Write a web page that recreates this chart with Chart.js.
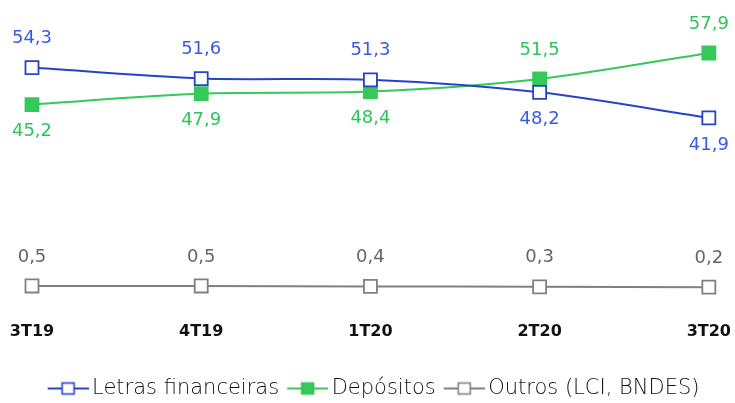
<!DOCTYPE html>
<html>
<head>
<meta charset="utf-8">
<script src="https://cdn.jsdelivr.net/npm/chart.js@4.4.1/dist/chart.umd.min.js"></script>
<style>
  html, body { margin: 0; padding: 0; background: #fff; }
  #wrap { width: 735px; height: 403px; }
</style>
</head>
<body>
<div id="wrap"><canvas id="chart"></canvas></div>
<script>
// Dados
const periodos = ['3T19', '4T19', '1T20', '2T20', '3T20'];
const letrasFinanceiras = [54.3, 51.6, 51.3, 48.2, 41.9];
const depositos = [45.2, 47.9, 48.4, 51.5, 57.9];
const outros = [0.5, 0.5, 0.4, 0.3, 0.2];

const FONT = "'DejaVu Sans', 'Noto Sans', sans-serif";

// posição do rótulo de cada ponto (acima / abaixo)
const labelSide = [
  ['up', 'up', 'up', 'down', 'down'],
  ['down', 'down', 'down', 'up', 'up'],
  ['up', 'up', 'up', 'up', 'up'],
];
const labelColors = ['#3a5ae4', '#2fc45a', '#666666'];

// Rótulos de dados
const valueLabels = {
  id: 'valueLabels',
  afterDatasetsDraw(chart) {
    const ctx = chart.ctx;
    ctx.save();
    ctx.font = '18px ' + FONT;
    ctx.textAlign = 'center';
    ctx.textBaseline = 'middle';
    chart.data.datasets.forEach((ds, i) => {
      const meta = chart.getDatasetMeta(i);
      ctx.fillStyle = labelColors[i];
      meta.data.forEach((pt, j) => {
        const txt = ds.data[j].toFixed(1).replace('.', ',');
        const dy = labelSide[i][j] === 'up' ? -29 : 27;
        ctx.fillText(txt, pt.x, pt.y + dy);
      });
    });
    ctx.restore();
  }
};

// ícone da legenda: linha + quadrado (desenhado à direita da imagem)
const ICON_W = 54;
function legendIcon(stroke, fill) {
  const c = document.createElement('canvas');
  c.width = ICON_W; c.height = 16;
  const g = c.getContext('2d');
  const x0 = ICON_W - 41;
  g.strokeStyle = stroke;
  g.lineWidth = 1.8;
  g.beginPath(); g.moveTo(x0, 8); g.lineTo(ICON_W, 8); g.stroke();
  g.fillStyle = fill;
  g.fillRect(x0 + 14, 2, 13, 12);
  g.lineWidth = 1.6;
  g.strokeRect(x0 + 14.5, 2.5, 12, 11);
  return c;
}

const series = [
  { label: 'Letras financeiras', data: letrasFinanceiras, line: '#2443c9', bg: '#ffffff' },
  { label: 'Depósitos', data: depositos, line: '#35c85a', bg: '#35c85a' },
  { label: 'Outros (LCI, BNDES)', data: outros, line: '#808080', bg: '#ffffff' },
];

new Chart(document.getElementById('chart'), {
  type: 'line',
  data: {
    labels: periodos,
    datasets: series.map(s => ({
      label: s.label,
      data: s.data,
      borderColor: s.line,
      borderWidth: 2,
      backgroundColor: s.bg,
      pointStyle: 'rect',
      pointRadius: 9.2,
      pointBorderWidth: 1.8,
      pointBorderColor: s.line,
      pointBackgroundColor: s.bg,
      tension: 0.3,
      fill: false,
      clip: false,
    })),
  },
  options: {
    responsive: true,
    maintainAspectRatio: false,
    animation: false,
    layout: { padding: { left: 32, right: 26, top: 12, bottom: -6 } },
    scales: {
      x: {
        offset: false,
        grid: { display: false, drawTicks: false },
        border: { display: false },
        ticks: { color: '#111', font: { family: FONT, size: 16, weight: 'bold', lineHeight: 80 / 16 }, padding: 4 },
      },
      y: {
        display: false,
        min: 0,
        max: 68,
      },
    },
    plugins: {
      tooltip: { enabled: false },
      legend: {
        position: 'bottom',
        labels: {
          usePointStyle: true,
          pointStyleWidth: ICON_W - 14,
          padding: 2,
          color: '#111',
          font: { family: FONT, size: 21, weight: '200' },
          generateLabels(chart) {
            return series.map((s, i) => ({
              text: s.label,
              pointStyle: legendIcon(s.line, s.bg),
              fillStyle: s.bg,
              strokeStyle: s.line,
              fontColor: '#111',
              datasetIndex: i,
              hidden: false,
            }));
          },
        },
      },
    },
  },
  plugins: [valueLabels],
});
</script>
</body>
</html>
